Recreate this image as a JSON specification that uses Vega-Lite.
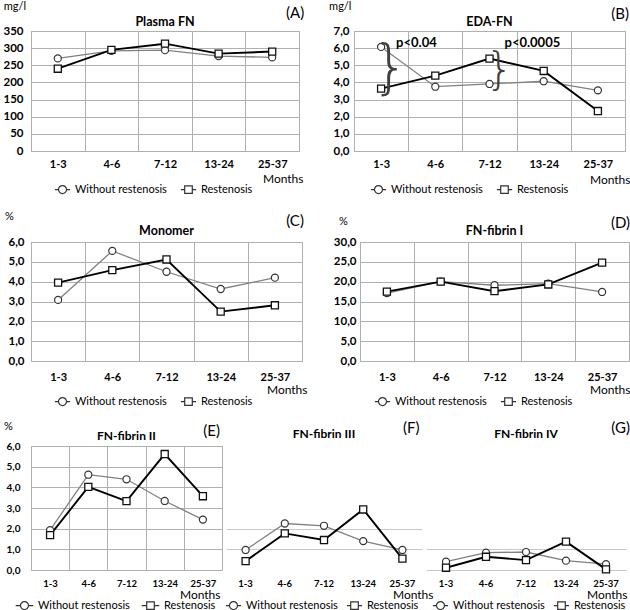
{
"$schema":"https://vega.github.io/schema/vega-lite/v6.json",
"padding":{"left":2,"top":0,"right":0,"bottom":0},
"background":"white",
"datasets":{
"A":[{"month":"1-3","group":"Without restenosis","value":270},{"month":"4-6","group":"Without restenosis","value":292},{"month":"7-12","group":"Without restenosis","value":294},{"month":"13-24","group":"Without restenosis","value":277},{"month":"25-37","group":"Without restenosis","value":273},{"month":"1-3","group":"Restenosis","value":240},{"month":"4-6","group":"Restenosis","value":295},{"month":"7-12","group":"Restenosis","value":313},{"month":"13-24","group":"Restenosis","value":284},{"month":"25-37","group":"Restenosis","value":290}],
"B":[{"month":"1-3","group":"Without restenosis","value":6.07},{"month":"4-6","group":"Without restenosis","value":3.75},{"month":"7-12","group":"Without restenosis","value":3.91},{"month":"13-24","group":"Without restenosis","value":4.07},{"month":"25-37","group":"Without restenosis","value":3.54},{"month":"1-3","group":"Restenosis","value":3.64},{"month":"4-6","group":"Restenosis","value":4.4},{"month":"7-12","group":"Restenosis","value":5.39},{"month":"13-24","group":"Restenosis","value":4.67},{"month":"25-37","group":"Restenosis","value":2.33}],
"C":[{"month":"1-3","group":"Without restenosis","value":3.08},{"month":"4-6","group":"Without restenosis","value":5.55},{"month":"7-12","group":"Without restenosis","value":4.5},{"month":"13-24","group":"Without restenosis","value":3.63},{"month":"25-37","group":"Without restenosis","value":4.2},{"month":"1-3","group":"Restenosis","value":3.95},{"month":"4-6","group":"Restenosis","value":4.58},{"month":"7-12","group":"Restenosis","value":5.12},{"month":"13-24","group":"Restenosis","value":2.49},{"month":"25-37","group":"Restenosis","value":2.81}],
"D":[{"month":"1-3","group":"Without restenosis","value":17.1},{"month":"4-6","group":"Without restenosis","value":20.0},{"month":"7-12","group":"Without restenosis","value":19.1},{"month":"13-24","group":"Without restenosis","value":19.5},{"month":"25-37","group":"Without restenosis","value":17.4},{"month":"1-3","group":"Restenosis","value":17.5},{"month":"4-6","group":"Restenosis","value":20.0},{"month":"7-12","group":"Restenosis","value":17.6},{"month":"13-24","group":"Restenosis","value":19.3},{"month":"25-37","group":"Restenosis","value":24.8}],
"E":[{"month":"1-3","group":"Without restenosis","value":1.93},{"month":"4-6","group":"Without restenosis","value":4.61},{"month":"7-12","group":"Without restenosis","value":4.39},{"month":"13-24","group":"Without restenosis","value":3.34},{"month":"25-37","group":"Without restenosis","value":2.44},{"month":"1-3","group":"Restenosis","value":1.69},{"month":"4-6","group":"Restenosis","value":4.02},{"month":"7-12","group":"Restenosis","value":3.33},{"month":"13-24","group":"Restenosis","value":5.61},{"month":"25-37","group":"Restenosis","value":3.57}],
"F":[{"month":"1-3","group":"Without restenosis","value":0.97},{"month":"4-6","group":"Without restenosis","value":2.25},{"month":"7-12","group":"Without restenosis","value":2.14},{"month":"13-24","group":"Without restenosis","value":1.4},{"month":"25-37","group":"Without restenosis","value":0.97},{"month":"1-3","group":"Restenosis","value":0.43},{"month":"4-6","group":"Restenosis","value":1.77},{"month":"7-12","group":"Restenosis","value":1.45},{"month":"13-24","group":"Restenosis","value":2.93},{"month":"25-37","group":"Restenosis","value":0.55}],
"G":[{"month":"1-3","group":"Without restenosis","value":0.4},{"month":"4-6","group":"Without restenosis","value":0.84},{"month":"7-12","group":"Without restenosis","value":0.87},{"month":"13-24","group":"Without restenosis","value":0.45},{"month":"25-37","group":"Without restenosis","value":0.28},{"month":"1-3","group":"Restenosis","value":0.11},{"month":"4-6","group":"Restenosis","value":0.64},{"month":"7-12","group":"Restenosis","value":0.48},{"month":"13-24","group":"Restenosis","value":1.37},{"month":"25-37","group":"Restenosis","value":0.03}]
},
"spacing":11,
"resolve":{"scale":{"shape":"independent","x":"independent","y":"independent"},"legend":{"shape":"independent"}},
"vconcat":[
{"spacing":13,
 "resolve":{"scale":{"shape":"independent","x":"independent","y":"independent"},"legend":{"shape":"independent"}},
 "vconcat":[
 {"bounds":"flush","spacing":55,
  "resolve":{"scale":{"shape":"independent","x":"independent","y":"independent"},"legend":{"shape":"independent"}},
  "hconcat":[
  {"width":268,"height":120,
   "encoding":{
    "x":{"field":"month","type":"ordinal","scale":{"type":"band","domain":["1-3","4-6","7-12","13-24","25-37"],"paddingInner":0,"paddingOuter":0},"bandPosition":0.5,"axis":{"title":"Months","tickBand":"extent","grid":true,"labelAngle":0,"labelFontSize":11,"labelFontWeight":"bold","labelPadding":7,"titleX":272,"titleY":31,"titleAlign":"right","titleBaseline":"alphabetic","titleFontSize":12,"titleFontWeight":"normal"}},
    "y":{"field":"value","type":"quantitative","scale":{"domain":[0,350],"nice":false},"axis":{"values":[0,50,100,150,200,250,300,350],"grid":true,"labelFontSize":11.5,"labelFontWeight":"bold","labelPadding":8,"title":null}}
   },
   "layer":[
    {"data":{"name":"A"},"transform":[{"filter":"datum.group==='Without restenosis'"}],"mark":{"type":"line","color":"#808080","strokeWidth":1.3}},
    {"data":{"name":"A"},"transform":[{"filter":"datum.group==='Restenosis'"}],"mark":{"type":"line","color":"#000000","strokeWidth":1.9}},
    {"data":{"name":"A"},"transform":[{"filter":"datum.group==='Without restenosis'"}],"mark":{"type":"point","shape":"circle","size":50,"filled":true,"fill":"white","stroke":"#333333","strokeWidth":1.2,"opacity":1}},
    {"data":{"name":"A"},"transform":[{"filter":"datum.group==='Restenosis'"}],"mark":{"type":"point","shape":"square","size":50,"filled":true,"fill":"white","stroke":"#111111","strokeWidth":1.3,"opacity":1}},
    {"data":{"name":"A"},"transform":[{"filter":"false"}],"mark":{"type":"point","filled":false,"color":"#333333","strokeWidth":1.2},
     "encoding":{"shape":{"field":"group","type":"nominal","scale":{"domain":["Without restenosis","Restenosis"],"range":["M-1.9,0H-1M1,0H1.9M-1,0A1,1,0,1,1,1,0A1,1,0,1,1,-1,0Z","M-1.9,0H-0.95M0.95,0H1.9M-0.95,-0.95H0.95V0.95H-0.95Z"]},
      "legend":{"title":null,"orient":"none","legendX":26,"legendY":153,"direction":"horizontal","symbolSize":64,"symbolStrokeWidth":1.2,"symbolStrokeColor":"#333333","symbolOpacity":1,"labelFontSize":11,"labelOffset":7,"columnPadding":11,"padding":0}}}},
    {"data":{"values":[{"month":"7-12","value":350,"t":"Plasma FN"}]},"mark":{"type":"text","align":"center","baseline":"alphabetic","dy":-5,"fontSize":12.5,"fontWeight":"bold"},"encoding":{"text":{"field":"t"}}},
    {"data":{"values":[{"month":"1-3","value":350,"t":"mg/l"}]},"mark":{"type":"text","align":"left","baseline":"alphabetic","dx":-54,"dy":-21,"fontSize":11},"encoding":{"text":{"field":"t"}}},
    {"data":{"values":[{"month":"25-37","value":350,"t":"(A)"}]},"mark":{"type":"text","align":"right","baseline":"alphabetic","dx":32,"dy":-13,"fontSize":15},"encoding":{"text":{"field":"t"}}}
   ]},
  {"width":271,"height":120,
   "encoding":{
    "x":{"field":"month","type":"ordinal","scale":{"type":"band","domain":["1-3","4-6","7-12","13-24","25-37"],"paddingInner":0,"paddingOuter":0},"bandPosition":0.5,"axis":{"title":"Months","tickBand":"extent","grid":true,"labelAngle":0,"labelFontSize":11,"labelFontWeight":"bold","labelPadding":7,"titleX":276,"titleY":32,"titleAlign":"right","titleBaseline":"alphabetic","titleFontSize":12,"titleFontWeight":"normal"}},
    "y":{"field":"value","type":"quantitative","scale":{"domain":[0,7],"nice":false},"axis":{"values":[0,1,2,3,4,5,6,7],"labelExpr":"replace(format(datum.value,'.1f'),'.',',')","grid":true,"labelFontSize":11.5,"labelFontWeight":"bold","labelPadding":5,"title":null}}
   },
   "layer":[
    {"data":{"name":"B"},"transform":[{"filter":"datum.group==='Without restenosis'"}],"mark":{"type":"line","color":"#808080","strokeWidth":1.3}},
    {"data":{"name":"B"},"transform":[{"filter":"datum.group==='Restenosis'"}],"mark":{"type":"line","color":"#000000","strokeWidth":1.9}},
    {"data":{"name":"B"},"transform":[{"filter":"datum.group==='Without restenosis'"}],"mark":{"type":"point","shape":"circle","size":50,"filled":true,"fill":"white","stroke":"#333333","strokeWidth":1.2,"opacity":1}},
    {"data":{"name":"B"},"transform":[{"filter":"datum.group==='Restenosis'"}],"mark":{"type":"point","shape":"square","size":50,"filled":true,"fill":"white","stroke":"#111111","strokeWidth":1.3,"opacity":1}},
    {"data":{"name":"B"},"transform":[{"filter":"false"}],"mark":{"type":"point","filled":false,"color":"#333333","strokeWidth":1.2},
     "encoding":{"shape":{"field":"group","type":"nominal","scale":{"domain":["Without restenosis","Restenosis"],"range":["M-1.9,0H-1M1,0H1.9M-1,0A1,1,0,1,1,1,0A1,1,0,1,1,-1,0Z","M-1.9,0H-0.95M0.95,0H1.9M-0.95,-0.95H0.95V0.95H-0.95Z"]},
      "legend":{"title":null,"orient":"none","legendX":19,"legendY":153,"direction":"horizontal","symbolSize":64,"symbolStrokeWidth":1.2,"symbolStrokeColor":"#333333","symbolOpacity":1,"labelFontSize":11,"labelOffset":7,"columnPadding":11,"padding":0}}}},
    {"data":{"values":[{"month":"1-3","value":4.75,"t":"}"}]},"mark":{"type":"text","align":"center","baseline":"middle","dx":9,"fontSize":58,"font":"DejaVu Sans","fontWeight":200,"color":"#404040"},"encoding":{"text":{"field":"t"}}},
    {"data":{"values":[{"month":"7-12","value":4.65,"t":"}"}]},"mark":{"type":"text","align":"center","baseline":"middle","dx":10,"fontSize":44,"font":"DejaVu Sans","fontWeight":200,"color":"#404040"},"encoding":{"text":{"field":"t"}}},
    {"data":{"values":[{"month":"1-3","value":6.3,"t":"p<0.04"},{"month":"7-12","value":6.3,"t":"p<0.0005"}]},"mark":{"type":"text","align":"left","baseline":"middle","dx":15,"fontSize":13,"fontWeight":"bold"},"encoding":{"text":{"field":"t"}}},
    {"data":{"values":[{"month":"7-12","value":7,"t":"EDA-FN"}]},"mark":{"type":"text","align":"center","baseline":"alphabetic","dy":-5,"fontSize":12.5,"fontWeight":"bold"},"encoding":{"text":{"field":"t"}}},
    {"data":{"values":[{"month":"1-3","value":7,"t":"mg/l"}]},"mark":{"type":"text","align":"left","baseline":"alphabetic","dx":-52,"dy":-21,"fontSize":11},"encoding":{"text":{"field":"t"}}},
    {"data":{"values":[{"month":"25-37","value":7,"t":"(B)"}]},"mark":{"type":"text","align":"right","baseline":"alphabetic","dx":31,"dy":-12,"fontSize":15},"encoding":{"text":{"field":"t"}}}
   ]}
  ]},
 {"bounds":"flush","spacing":58,
  "resolve":{"scale":{"shape":"independent","x":"independent","y":"independent"},"legend":{"shape":"independent"}},
  "hconcat":[
  {"width":271,"height":119,
   "encoding":{
    "x":{"field":"month","type":"ordinal","scale":{"type":"band","domain":["1-3","4-6","7-12","13-24","25-37"],"paddingInner":0,"paddingOuter":0},"bandPosition":0.5,"axis":{"title":"Months","tickBand":"extent","grid":true,"labelAngle":0,"labelFontSize":11,"labelFontWeight":"bold","labelPadding":10,"titleX":276,"titleY":32,"titleAlign":"right","titleBaseline":"alphabetic","titleFontSize":12,"titleFontWeight":"normal"}},
    "y":{"field":"value","type":"quantitative","scale":{"domain":[0,6],"nice":false},"axis":{"values":[0,1,2,3,4,5,6],"labelExpr":"replace(format(datum.value,'.1f'),'.',',')","grid":true,"labelFontSize":11.5,"labelFontWeight":"bold","labelPadding":7,"title":null}}
   },
   "layer":[
    {"data":{"name":"C"},"transform":[{"filter":"datum.group==='Without restenosis'"}],"mark":{"type":"line","color":"#808080","strokeWidth":1.3}},
    {"data":{"name":"C"},"transform":[{"filter":"datum.group==='Restenosis'"}],"mark":{"type":"line","color":"#000000","strokeWidth":1.9}},
    {"data":{"name":"C"},"transform":[{"filter":"datum.group==='Without restenosis'"}],"mark":{"type":"point","shape":"circle","size":50,"filled":true,"fill":"white","stroke":"#333333","strokeWidth":1.2,"opacity":1}},
    {"data":{"name":"C"},"transform":[{"filter":"datum.group==='Restenosis'"}],"mark":{"type":"point","shape":"square","size":50,"filled":true,"fill":"white","stroke":"#111111","strokeWidth":1.3,"opacity":1}},
    {"data":{"name":"C"},"transform":[{"filter":"false"}],"mark":{"type":"point","filled":false,"color":"#333333","strokeWidth":1.2},
     "encoding":{"shape":{"field":"group","type":"nominal","scale":{"domain":["Without restenosis","Restenosis"],"range":["M-1.9,0H-1M1,0H1.9M-1,0A1,1,0,1,1,1,0A1,1,0,1,1,-1,0Z","M-1.9,0H-0.95M0.95,0H1.9M-0.95,-0.95H0.95V0.95H-0.95Z"]},
      "legend":{"title":null,"orient":"none","legendX":26,"legendY":154,"direction":"horizontal","symbolSize":64,"symbolStrokeWidth":1.2,"symbolStrokeColor":"#333333","symbolOpacity":1,"labelFontSize":11,"labelOffset":7,"columnPadding":11,"padding":0}}}},
    {"data":{"values":[{"month":"7-12","value":6,"t":"Monomer"}]},"mark":{"type":"text","align":"center","baseline":"alphabetic","dy":-7,"fontSize":12.5,"fontWeight":"bold"},"encoding":{"text":{"field":"t"}}},
    {"data":{"values":[{"month":"1-3","value":6,"t":"%"}]},"mark":{"type":"text","align":"left","baseline":"alphabetic","dx":-53,"dy":-22,"fontSize":11},"encoding":{"text":{"field":"t"}}},
    {"data":{"values":[{"month":"25-37","value":6,"t":"(C)"}]},"mark":{"type":"text","align":"right","baseline":"alphabetic","dx":29,"dy":-16,"fontSize":15},"encoding":{"text":{"field":"t"}}}
   ]},
  {"width":269,"height":119,
   "encoding":{
    "x":{"field":"month","type":"ordinal","scale":{"type":"band","domain":["1-3","4-6","7-12","13-24","25-37"],"paddingInner":0,"paddingOuter":0},"bandPosition":0.5,"axis":{"title":"Months","tickBand":"extent","grid":true,"labelAngle":0,"labelFontSize":11,"labelFontWeight":"bold","labelPadding":10,"titleX":270,"titleY":32,"titleAlign":"right","titleBaseline":"alphabetic","titleFontSize":12,"titleFontWeight":"normal"}},
    "y":{"field":"value","type":"quantitative","scale":{"domain":[0,30],"nice":false},"axis":{"values":[0,5,10,15,20,25,30],"labelExpr":"replace(format(datum.value,'.1f'),'.',',')","grid":true,"labelFontSize":11.5,"labelFontWeight":"bold","labelPadding":4,"title":null}}
   },
   "layer":[
    {"data":{"name":"D"},"transform":[{"filter":"datum.group==='Without restenosis'"}],"mark":{"type":"line","color":"#808080","strokeWidth":1.3}},
    {"data":{"name":"D"},"transform":[{"filter":"datum.group==='Restenosis'"}],"mark":{"type":"line","color":"#000000","strokeWidth":1.9}},
    {"data":{"name":"D"},"transform":[{"filter":"datum.group==='Without restenosis'"}],"mark":{"type":"point","shape":"circle","size":50,"filled":true,"fill":"white","stroke":"#333333","strokeWidth":1.2,"opacity":1}},
    {"data":{"name":"D"},"transform":[{"filter":"datum.group==='Restenosis'"}],"mark":{"type":"point","shape":"square","size":50,"filled":true,"fill":"white","stroke":"#111111","strokeWidth":1.3,"opacity":1}},
    {"data":{"name":"D"},"transform":[{"filter":"false"}],"mark":{"type":"point","filled":false,"color":"#333333","strokeWidth":1.2},
     "encoding":{"shape":{"field":"group","type":"nominal","scale":{"domain":["Without restenosis","Restenosis"],"range":["M-1.9,0H-1M1,0H1.9M-1,0A1,1,0,1,1,1,0A1,1,0,1,1,-1,0Z","M-1.9,0H-0.95M0.95,0H1.9M-0.95,-0.95H0.95V0.95H-0.95Z"]},
      "legend":{"title":null,"orient":"none","legendX":17,"legendY":154,"direction":"horizontal","symbolSize":64,"symbolStrokeWidth":1.2,"symbolStrokeColor":"#333333","symbolOpacity":1,"labelFontSize":11,"labelOffset":7,"columnPadding":11,"padding":0}}}},
    {"data":{"values":[{"month":"7-12","value":30,"t":"FN-fibrin I"}]},"mark":{"type":"text","align":"center","baseline":"alphabetic","dy":-7,"fontSize":12.5,"fontWeight":"bold"},"encoding":{"text":{"field":"t"}}},
    {"data":{"values":[{"month":"1-3","value":30,"t":"%"}]},"mark":{"type":"text","align":"left","baseline":"alphabetic","dx":-48,"dy":-17,"fontSize":11},"encoding":{"text":{"field":"t"}}},
    {"data":{"values":[{"month":"25-37","value":30,"t":"(D)"}]},"mark":{"type":"text","align":"right","baseline":"alphabetic","dx":28,"dy":-14,"fontSize":15},"encoding":{"text":{"field":"t"}}}
   ]}
  ]}
 ]},
 {"bounds":"flush","spacing":4,
  "resolve":{"scale":{"shape":"independent","x":"independent","y":"independent"},"legend":{"shape":"independent"}},
  "hconcat":[
  {"width":191,"height":124,
   "encoding":{
    "x":{"field":"month","type":"ordinal","scale":{"type":"band","domain":["1-3","4-6","7-12","13-24","25-37"],"paddingInner":0,"paddingOuter":0},"bandPosition":0.5,"axis":{"title":"Months","tickBand":"extent","grid":true,"labelAngle":0,"labelFontSize":9.5,"labelFontWeight":"bold","labelPadding":8,"titleX":189,"titleY":28,"titleAlign":"right","titleBaseline":"alphabetic","titleFontSize":12,"titleFontWeight":"normal"}},
    "y":{"field":"value","type":"quantitative","scale":{"domain":[0,6],"nice":false},"axis":{"values":[0,1,2,3,4,5,6],"labelExpr":"replace(format(datum.value,'.1f'),'.',',')","grid":true,"labelFontSize":10,"labelFontWeight":"bold","labelPadding":11,"title":null}}
   },
   "layer":[
    {"data":{"name":"E"},"transform":[{"filter":"datum.group==='Without restenosis'"}],"mark":{"type":"line","color":"#808080","strokeWidth":1.3}},
    {"data":{"name":"E"},"transform":[{"filter":"datum.group==='Restenosis'"}],"mark":{"type":"line","color":"#000000","strokeWidth":1.9}},
    {"data":{"name":"E"},"transform":[{"filter":"datum.group==='Without restenosis'"}],"mark":{"type":"point","shape":"circle","size":50,"filled":true,"fill":"white","stroke":"#333333","strokeWidth":1.2,"opacity":1}},
    {"data":{"name":"E"},"transform":[{"filter":"datum.group==='Restenosis'"}],"mark":{"type":"point","shape":"square","size":50,"filled":true,"fill":"white","stroke":"#111111","strokeWidth":1.3,"opacity":1}},
    {"data":{"name":"E"},"transform":[{"filter":"false"}],"mark":{"type":"point","filled":false,"color":"#333333","strokeWidth":1.2},
     "encoding":{"shape":{"field":"group","type":"nominal","scale":{"domain":["Without restenosis","Restenosis"],"range":["M-2.2,0H-1M1,0H2.2M-1,0A1,1,0,1,1,1,0A1,1,0,1,1,-1,0Z","M-2.2,0H-0.95M0.95,0H2.2M-0.95,-0.95H0.95V0.95H-0.95Z"]},
      "legend":{"title":null,"orient":"none","legendX":-12,"legendY":154,"direction":"horizontal","symbolSize":64,"symbolStrokeWidth":1.2,"symbolStrokeColor":"#333333","symbolOpacity":1,"labelFontSize":11,"labelOffset":8,"columnPadding":9,"padding":0}}}},
    {"data":{"values":[{"month":"7-12","value":6,"t":"FN-fibrin II"}]},"mark":{"type":"text","align":"center","baseline":"alphabetic","dy":-6,"fontSize":12,"fontWeight":"bold"},"encoding":{"text":{"field":"t"}}},
    {"data":{"values":[{"month":"1-3","value":6,"t":"%"}]},"mark":{"type":"text","align":"left","baseline":"alphabetic","dx":-46,"dy":-16,"fontSize":11},"encoding":{"text":{"field":"t"}}},
    {"data":{"values":[{"month":"25-37","value":6,"t":"(E)"}]},"mark":{"type":"text","align":"right","baseline":"alphabetic","dx":17,"dy":-10,"fontSize":15},"encoding":{"text":{"field":"t"}}}
   ]},
  {"width":196,"height":124,"view":{"stroke":null},
   "encoding":{
    "x":{"field":"month","type":"ordinal","scale":{"type":"band","domain":["1-3","4-6","7-12","13-24","25-37"],"paddingInner":0,"paddingOuter":0},"bandPosition":0.5,"axis":{"title":"Months","grid":false,"labelAngle":0,"labelFontSize":9.5,"labelFontWeight":"bold","labelPadding":8,"titleX":207,"titleY":28,"titleAlign":"right","titleBaseline":"alphabetic","titleFontSize":12,"titleFontWeight":"normal"}},
    "y":{"field":"value","type":"quantitative","scale":{"domain":[0,6],"nice":false},"axis":{"values":[1,2],"labels":false,"grid":true,"title":null,"gridColor":"#c8c8c8"}}
   },
   "layer":[
    {"data":{"name":"F"},"transform":[{"filter":"datum.group==='Without restenosis'"}],"mark":{"type":"line","color":"#808080","strokeWidth":1.3}},
    {"data":{"name":"F"},"transform":[{"filter":"datum.group==='Restenosis'"}],"mark":{"type":"line","color":"#000000","strokeWidth":1.9}},
    {"data":{"name":"F"},"transform":[{"filter":"datum.group==='Without restenosis'"}],"mark":{"type":"point","shape":"circle","size":50,"filled":true,"fill":"white","stroke":"#333333","strokeWidth":1.2,"opacity":1}},
    {"data":{"name":"F"},"transform":[{"filter":"datum.group==='Restenosis'"}],"mark":{"type":"point","shape":"square","size":50,"filled":true,"fill":"white","stroke":"#111111","strokeWidth":1.3,"opacity":1}},
    {"data":{"name":"F"},"transform":[{"filter":"false"}],"mark":{"type":"point","filled":false,"color":"#333333","strokeWidth":1.2},
     "encoding":{"shape":{"field":"group","type":"nominal","scale":{"domain":["Without restenosis","Restenosis"],"range":["M-1.9,0H-1M1,0H1.9M-1,0A1,1,0,1,1,1,0A1,1,0,1,1,-1,0Z","M-1.9,0H-0.95M0.95,0H1.9M-0.95,-0.95H0.95V0.95H-0.95Z"]},
      "legend":{"title":null,"orient":"none","legendX":2,"legendY":154,"direction":"horizontal","symbolSize":64,"symbolStrokeWidth":1.2,"symbolStrokeColor":"#333333","symbolOpacity":1,"labelFontSize":11,"labelOffset":7,"columnPadding":6,"padding":0}}}},
    {"data":{"values":[{"month":"7-12","value":6,"t":"FN-fibrin III"}]},"mark":{"type":"text","align":"center","baseline":"alphabetic","dy":-8,"fontSize":12,"fontWeight":"bold"},"encoding":{"text":{"field":"t"}}},
    {"data":{"values":[{"month":"25-37","value":6,"t":"(F)"}]},"mark":{"type":"text","align":"right","baseline":"alphabetic","dx":17,"dy":-13,"fontSize":15},"encoding":{"text":{"field":"t"}}}
   ]},
  {"width":200,"height":124,"view":{"stroke":null},
   "encoding":{
    "x":{"field":"month","type":"ordinal","scale":{"type":"band","domain":["1-3","4-6","7-12","13-24","25-37"],"paddingInner":0,"paddingOuter":0},"bandPosition":0.5,"axis":{"title":"Months","grid":false,"labelAngle":0,"labelFontSize":9.5,"labelFontWeight":"bold","labelPadding":8,"titleX":201,"titleY":28,"titleAlign":"right","titleBaseline":"alphabetic","titleFontSize":12,"titleFontWeight":"normal"}},
    "y":{"field":"value","type":"quantitative","scale":{"domain":[0,6],"nice":false},"axis":{"values":[0,1],"labels":false,"grid":true,"title":null,"gridColor":"#c8c8c8"}}
   },
   "layer":[
    {"data":{"name":"G"},"transform":[{"filter":"datum.group==='Without restenosis'"}],"mark":{"type":"line","color":"#808080","strokeWidth":1.3}},
    {"data":{"name":"G"},"transform":[{"filter":"datum.group==='Restenosis'"}],"mark":{"type":"line","color":"#000000","strokeWidth":1.9}},
    {"data":{"name":"G"},"transform":[{"filter":"datum.group==='Without restenosis'"}],"mark":{"type":"point","shape":"circle","size":50,"filled":true,"fill":"white","stroke":"#333333","strokeWidth":1.2,"opacity":1}},
    {"data":{"name":"G"},"transform":[{"filter":"datum.group==='Restenosis'"}],"mark":{"type":"point","shape":"square","size":50,"filled":true,"fill":"white","stroke":"#111111","strokeWidth":1.3,"opacity":1}},
    {"data":{"name":"G"},"transform":[{"filter":"false"}],"mark":{"type":"point","filled":false,"color":"#333333","strokeWidth":1.2},
     "encoding":{"shape":{"field":"group","type":"nominal","scale":{"domain":["Without restenosis","Restenosis"],"range":["M-1.9,0H-1M1,0H1.9M-1,0A1,1,0,1,1,1,0A1,1,0,1,1,-1,0Z","M-1.9,0H-0.95M0.95,0H1.9M-0.95,-0.95H0.95V0.95H-0.95Z"]},
      "legend":{"title":null,"orient":"none","legendX":9,"legendY":154,"direction":"horizontal","symbolSize":64,"symbolStrokeWidth":1.2,"symbolStrokeColor":"#333333","symbolOpacity":1,"labelFontSize":11,"labelOffset":7,"columnPadding":6,"padding":0}}}},
    {"data":{"values":[{"month":"7-12","value":6,"t":"FN-fibrin IV"}]},"mark":{"type":"text","align":"center","baseline":"alphabetic","dy":-8,"fontSize":12,"fontWeight":"bold"},"encoding":{"text":{"field":"t"}}},
    {"data":{"values":[{"month":"25-37","value":6,"t":"(G)"}]},"mark":{"type":"text","align":"right","baseline":"alphabetic","dx":24,"dy":-13,"fontSize":15},"encoding":{"text":{"field":"t"}}}
   ]}
  ]}
],
"config":{
 "font":"Lato",
 "view":{"stroke":"#a6a6a6","strokeWidth":1},
 "axis":{"domain":false,"ticks":false,"gridColor":"#b0b0b0","gridWidth":1,"labelColor":"#000000","titleColor":"#000000","labelFont":"Lato","titleFont":"Lato"},
 "legend":{"labelFont":"Lato","labelColor":"#000000"},
 "text":{"font":"Lato","color":"#000000"}
}
}
